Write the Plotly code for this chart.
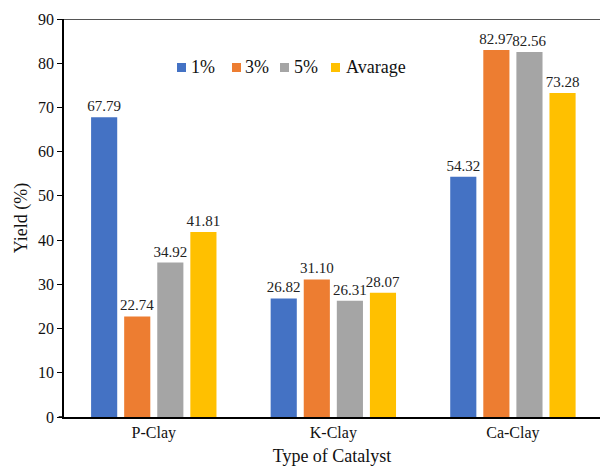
import plotly.graph_objects as go

catalysts = ["P-Clay", "K-Clay", "Ca-Clay"]
series_names = ["1%", "3%", "5%", "Avarage"]
yield_1 = [67.79, 26.82, 54.32]
yield_3 = [22.74, 31.10, 82.97]
yield_5 = [34.92, 26.31, 82.56]
yield_avg = [41.81, 28.07, 73.28]
colors = ["#4472C4", "#ED7D31", "#A5A5A5", "#FFC000"]

FONT = "Times New Roman"
W, H = 600, 470
ML, MR, MT, MB = 64, 0, 19, 53
PW, PH = W - ML - MR, H - MT - MB


def px_x(x):
    return (x - ML) / PW


def px_y(y):
    return (H - MB - y) / PH


fig = go.Figure()
for name, vals, col in zip(series_names, [yield_1, yield_3, yield_5, yield_avg], colors):
    fig.add_trace(go.Bar(
        x=catalysts, y=vals, name=name,
        marker=dict(color=col, line=dict(width=0)),
        text=[f"{v:.2f}" for v in vals],
        textposition="outside",
        constraintext="none",
        textfont=dict(family=FONT, size=15, color="#222"),
        cliponaxis=False,
        showlegend=False,
    ))

# Compact horizontal legend: square swatch followed by its label
swatch_left = [177, 232, 280, 331]
label_left = [190, 244, 293, 345]
shapes = []
annotations = []
for name, col, sx, lx in zip(series_names, colors, swatch_left, label_left):
    shapes.append(dict(type="rect", xref="paper", yref="paper",
                       x0=px_x(sx), x1=px_x(sx + 9), y0=px_y(72), y1=px_y(63),
                       fillcolor=col, line=dict(width=0)))
    annotations.append(dict(text=name, xref="paper", yref="paper",
                            x=px_x(lx), y=px_y(67.5), xanchor="left", yanchor="middle",
                            showarrow=False, xshift=-1,
                            font=dict(family=FONT, size=18, color="#111")))

shapes += [
    dict(type="line", xref="paper", yref="y", x0=0, x1=1, y0=90, y1=90,
         line=dict(color="#555", width=2)),
    dict(type="line", xref="paper", yref="y", x0=-0.01, x1=0, y0=0, y1=0,
         line=dict(color="black", width=1.5)),
]

fig.update_layout(
    width=W, height=H,
    margin=dict(l=ML, r=MR, t=MT, b=MB),
    paper_bgcolor="white", plot_bgcolor="white",
    barmode="group", bargap=0.263, bargroupgap=0.21,
    font=dict(family=FONT, size=15, color="#111"),
    showlegend=False,
    xaxis=dict(range=[-0.5, 2.485], showline=True, linecolor="black", linewidth=1.5,
               ticks="", tickfont=dict(family=FONT, size=16, color="#111"),
               title=dict(text="Type of Catalyst", font=dict(family=FONT, size=18, color="#111"), standoff=8)),
    yaxis=dict(range=[0, 90], dtick=10, showgrid=False, zeroline=False,
               showline=True, linecolor="black", linewidth=1.5,
               ticks="outside", ticklen=5, tickcolor="black",
               tickfont=dict(family=FONT, size=16, color="#111"),
               title=dict(text="Yield (%)", font=dict(family=FONT, size=18, color="#111"), standoff=6)),
    shapes=shapes,
    annotations=annotations,
)

fig.write_html("out.html")
